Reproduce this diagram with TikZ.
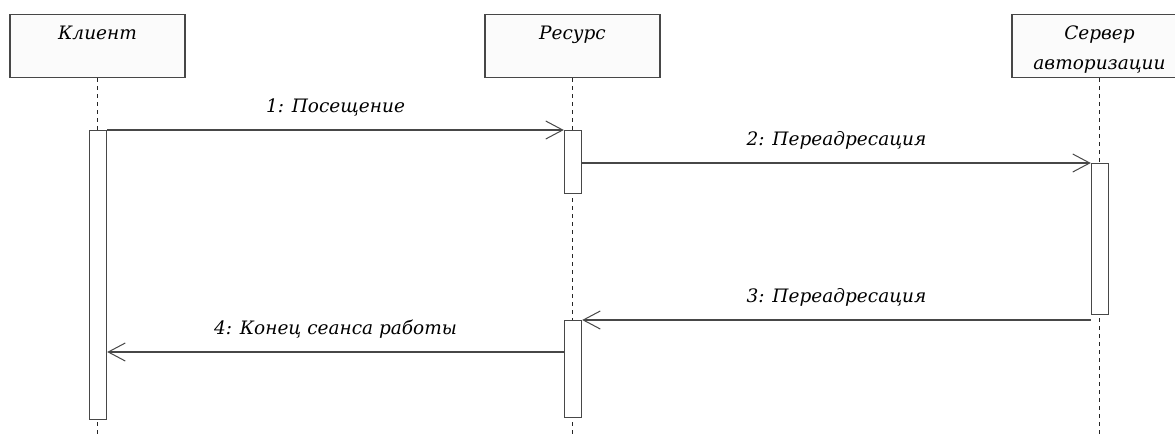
\documentclass[tikz,border=0pt]{standalone}
\usepackage{fontspec}
\setmainfont{DejaVu Serif}
\usepackage{tikz}
\usetikzlibrary{arrows.meta}

\tikzset{
  head/.style={draw=black!72, fill=black!1.5, line width=1.4pt, minimum width=175, minimum height=63,
    anchor=north, inner sep=0pt, text height=25pt, text depth=38pt},
  act/.style={draw=black!72, fill=white, line width=1.4pt, minimum width=17, anchor=north, inner sep=0pt},
  life/.style={black!85, line width=1.4pt, dash pattern=on 4pt off 4pt},
  msg/.style={draw=black!72, line width=1.4pt, -{Straight Barb[length=17pt,width=18pt,line width=1pt]}},
  lbl/.style={anchor=base, yshift=18pt, inner sep=0pt}
}

\begin{document}
\begin{tikzpicture}[x=1pt, y=-1pt, font=\fontsize{18.5}{30}\selectfont\itshape]
\useasboundingbox (0,0) rectangle (1175,437);
\node (klient) at (97.5,14) [head] {Клиент};
\node (resurs) at (572.5,14) [head] {Ресурс};
\node (server) at (1099.5,14) [head] {\begin{tabular}[t]{@{}c@{}}Сервер\\ авторизации\end{tabular}};
\coordinate (bottom) at (0,437);
\coordinate (m4) at (0,352);

\draw[life] (klient.south) -- (klient.south |- bottom);
\draw[life] (resurs.south) -- (resurs.south |- bottom);
\draw[life] (server.south) -- (server.south |- bottom);

\node (kact)  at (98,130)   [act, minimum height=289] {};
\node (ract1) at (573,130)  [act, minimum height=63] {};
\node (sact)  at (1100,163) [act, minimum height=151] {};
\node (ract2) at (573,320)  [act, minimum height=97] {};

\path (kact.north east) edge[msg] node[lbl] {1: Посещение} (ract1.north west);
\path (ract1.east |- sact.north) edge[msg] node[lbl] {2: Переадресация} (sact.north west);
\path (sact.west |- ract2.north) edge[msg] node[lbl] {3: Переадресация} (ract2.north east);
\path (ract2.west |- m4) edge[msg] node[lbl] {4: Конец сеанса работы} (kact.east |- m4);
\end{tikzpicture}
\end{document}
